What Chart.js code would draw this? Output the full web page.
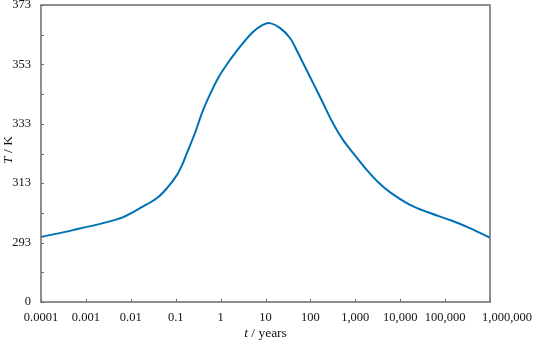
<!DOCTYPE html>
<html>
<head>
<meta charset="utf-8">
<script src="https://cdn.jsdelivr.net/npm/chart.js@4/dist/chart.umd.min.js"></script>
<style>
  html, body { margin: 0; padding: 0; background: #fff; }
  #wrap { width: 533px; height: 341px; position: relative; }
</style>
</head>
<body>
<div id="wrap"><canvas id="c"></canvas></div>
<script>
// ---- data ----
const timeYears = [0.0001, 0.000516, 0.00295, 0.00676, 0.016, 0.0384, 0.0646, 0.107, 0.145, 0.178,
  0.269, 0.407, 0.676, 0.97, 1.62, 2.69, 5.25, 8.71, 12.6, 20.9, 35.1, 52.5, 68.4, 115, 191,
  316, 537, 891, 1820, 3200, 5890, 16600, 39800, 129000, 355000, 912000, 1000000];
const temperatureK = [294.9, 297.2, 299.9, 301.6, 304.6, 308.0, 311.4, 315.8, 319.8, 323.2,
  329.9, 337.6, 345.0, 349.5, 354.5, 358.9, 363.9, 366.3, 366.9, 365.3, 361.9, 357.0, 353.5, 346.7, 340.0,
  333.3, 327.5, 323.2, 317.4, 313.4, 310.0, 305.7, 303.3, 300.6, 297.9, 294.9, 294.6];
const xTickValues = [0.0001, 0.001, 0.01, 0.1, 1, 10, 100, 1000, 10000, 100000, 1000000];
const xTickLabels = ["0.0001", "0.001", "0.01", "0.1", "1", "10", "100", "1,000", "10,000", "100,000", "1,000,000"];
const yTickValues = [273, 293, 313, 333, 353, 373];
const yTickLabels = ["0", "293", "313", "333", "353", "373"];
const yMinorStep = 10;
const xTitle = ["t", " / years"];
const yTitle = ["T", " / K"];

const FONT = "'Liberation Serif', 'Times New Roman', serif";
const AXIS_COLOR = "#6b6b6b";
const TEXT_COLOR = "#111";

const framePlugin = {
  id: 'frame',
  afterDraw(chart) {
    const { ctx, chartArea: a, scales } = chart;
    ctx.save();
    ctx.strokeStyle = AXIS_COLOR;
    ctx.lineWidth = 1;
    // inner tick marks
    ctx.beginPath();
    scales.y.ticks.forEach(t => {
      const py = Math.round(scales.y.getPixelForValue(t.value)) + 0.5;
      ctx.moveTo(a.left, py); ctx.lineTo(a.left + 3, py);
    });
    scales.x.ticks.forEach(t => {
      const px = Math.round(scales.x.getPixelForValue(t.value)) + 0.5;
      ctx.moveTo(px, a.bottom); ctx.lineTo(px, a.bottom - 3);
    });
    ctx.stroke();
    // frame
    ctx.lineWidth = 1.5;
    ctx.strokeRect(a.left, a.top, a.right - a.left, a.bottom - a.top);
    // x tick labels
    ctx.fillStyle = TEXT_COLOR;
    ctx.textBaseline = "middle";
    ctx.font = "12.5px " + FONT;
    xTickValues.forEach((v, i) => {
      const px = scales.x.getPixelForValue(v);
      if (i === xTickValues.length - 1) {
        ctx.textAlign = "left";
        ctx.fillText(xTickLabels[i], px - 8, a.bottom + 16);
      } else {
        ctx.textAlign = "center";
        ctx.fillText(xTickLabels[i], px, a.bottom + 16);
      }
    });
    // titles
    const drawTitle = (parts, cx, cy, rot) => {
      ctx.save();
      ctx.translate(cx, cy);
      ctx.rotate(rot);
      ctx.font = "italic 13.5px " + FONT;
      const w0 = ctx.measureText(parts[0]).width;
      ctx.font = "13.5px " + FONT;
      const w1 = ctx.measureText(parts[1]).width;
      let x = -(w0 + w1) / 2;
      ctx.textAlign = "left";
      ctx.font = "italic 13.5px " + FONT;
      ctx.fillText(parts[0], x, 0);
      ctx.font = "13.5px " + FONT;
      ctx.fillText(parts[1], x + w0, 0);
      ctx.restore();
    };
    drawTitle(xTitle, (a.left + a.right) / 2, 333, 0);
    drawTitle(yTitle, 8, 150, -Math.PI / 2);
    ctx.restore();
  }
};

new Chart(document.getElementById('c'), {
  type: 'line',
  data: {
    datasets: [{
      data: timeYears.map((t, i) => ({ x: t, y: temperatureK[i] })),
      borderColor: '#0070b5',
      borderWidth: 2,
      pointRadius: 0,
      tension: 0.35,
      fill: false
    }]
  },
  options: {
    responsive: true,
    maintainAspectRatio: false,
    animation: false,
    layout: { padding: { top: 5, right: 43, left: 0, bottom: 0 } },
    plugins: { legend: { display: false }, tooltip: { enabled: false } },
    scales: {
      x: {
        type: 'logarithmic',
        min: xTickValues[0],
        max: xTickValues[xTickValues.length - 1],
        afterBuildTicks(scale) { scale.ticks = xTickValues.map(v => ({ value: v })); },
        afterFit(scale) {
          scale.height = 39;
          scale.paddingLeft = 0; scale.paddingRight = 0;
          scale.paddingTop = 0; scale.paddingBottom = 0;
        },
        grid: { display: true, drawOnChartArea: false, drawTicks: false },
        border: { display: false },
        ticks: { display: false, autoSkip: false, maxRotation: 0 }
      },
      y: {
        type: 'linear',
        min: yTickValues[0],
        max: yTickValues[yTickValues.length - 1],
        afterFit(scale) {
          scale.width = 41;
          scale.paddingLeft = 0; scale.paddingRight = 0;
          scale.paddingTop = 0; scale.paddingBottom = 0;
        },
        grid: { display: true, drawOnChartArea: false, drawTicks: false },
        border: { display: false },
        ticks: {
          stepSize: yMinorStep, autoSkip: false, padding: 10,
          color: TEXT_COLOR, font: { family: FONT, size: 12.5 },
          callback(value) {
            const i = yTickValues.indexOf(value);
            return i >= 0 ? yTickLabels[i] : '';
          }
        }
      }
    }
  },
  plugins: [framePlugin]
});
</script>
</body>
</html>
